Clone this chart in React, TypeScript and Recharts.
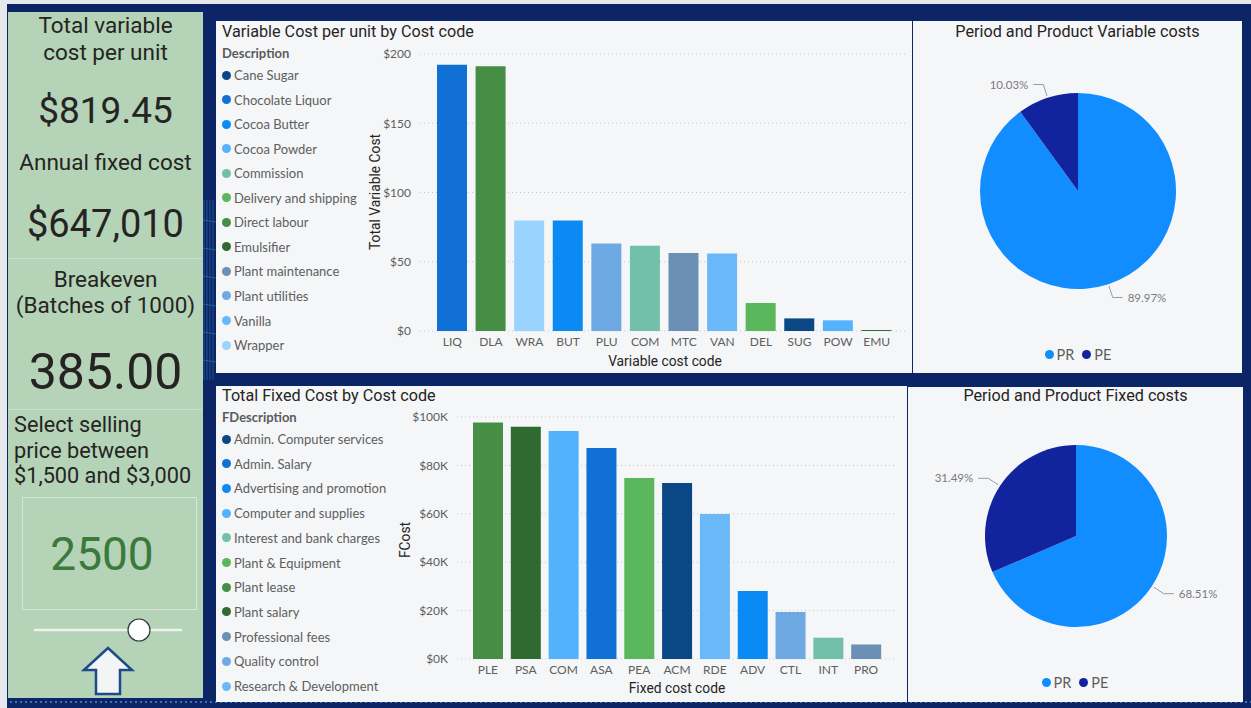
import React from 'react';
import { BarChart, Bar, XAxis, YAxis, CartesianGrid, Cell, PieChart, Pie } from 'recharts';

// ---------- data ----------
const varCodes = ['LIQ', 'DLA', 'WRA', 'BUT', 'PLU', 'COM', 'MTC', 'VAN', 'DEL', 'SUG', 'POW', 'EMU'];
const varValues = [192.3, 191.1, 79.7, 79.7, 63.2, 61.5, 56.4, 55.9, 20.2, 9.1, 7.7, 0.7];
const varCodeDesc = ['Chocolate Liquor', 'Direct labour', 'Wrapper', 'Cocoa Butter', 'Plant utilities', 'Commission', 'Plant maintenance', 'Vanilla', 'Delivery and shipping', 'Cane Sugar', 'Cocoa Powder', 'Emulsifier'];
const varLegend = ['Cane Sugar', 'Chocolate Liquor', 'Cocoa Butter', 'Cocoa Powder', 'Commission', 'Delivery and shipping', 'Direct labour', 'Emulsifier', 'Plant maintenance', 'Plant utilities', 'Vanilla', 'Wrapper'];
const varLegendColors = ['#0c4785', '#1070d6', '#0b8af3', '#55b3fb', '#71c0a7', '#5bb75b', '#468d46', '#2f6b30', '#6b8fb5', '#6ea9e4', '#6bb8f9', '#9ad3fd'];
const varTicks = [0, 50, 100, 150, 200];

const fixCodes = ['PLE', 'PSA', 'COM', 'ASA', 'PEA', 'ACM', 'RDE', 'ADV', 'CTL', 'INT', 'PRO'];
const fixValues = [97700, 96000, 94200, 87200, 74800, 72700, 59900, 28100, 19400, 8800, 6000];
const fixCodeDesc = ['Plant lease', 'Plant salary', 'Computer and supplies', 'Admin. Salary', 'Plant & Equipment', 'Admin. Computer services', 'Research & Development', 'Advertising and promotion', 'Quality control', 'Interest and bank charges', 'Professional fees'];
const fixLegend = ['Admin. Computer services', 'Admin. Salary', 'Advertising and promotion', 'Computer and supplies', 'Interest and bank charges', 'Plant & Equipment', 'Plant lease', 'Plant salary', 'Professional fees', 'Quality control', 'Research & Development'];
const fixLegendColors = ['#0b4685', '#1070d6', '#0b8af3', '#52b2fb', '#71c0a7', '#5bb75b', '#468d46', '#2f6b30', '#6b8fb5', '#6ea9e4', '#6bb8f9'];
const fixTicks = [0, 20000, 40000, 60000, 80000, 100000];

const pieNames = ['PR', 'PE'];
const pieColors = ['#118dff', '#12239e'];
const varPieValues = [89.97, 10.03];
const fixPieValues = [68.51, 31.49];

// ---------- tables built from arrays ----------
const varData = varCodes.map((c, i) => ({ code: c, value: varValues[i], color: varLegendColors[varLegend.indexOf(varCodeDesc[i])] }));
const fixData = fixCodes.map((c, i) => ({ code: c, value: fixValues[i], color: fixLegendColors[fixLegend.indexOf(fixCodeDesc[i])] }));
const varPie = pieNames.map((n, i) => ({ name: n, value: varPieValues[i] }));
const fixPie = pieNames.map((n, i) => ({ name: n, value: fixPieValues[i] }));

const NAVY = '#0b2566';
const PANEL = '#f5f6f8';
const TITLE_FONT = 'Roboto, sans-serif';
const BODY_FONT = 'Lato, sans-serif';
const RAD = Math.PI / 180;

const abs = (l: number, t: number, w: number, h: number): React.CSSProperties => ({ position: 'absolute', left: l, top: t, width: w, height: h });

function PieLabel(props: any) {
  const { cx, cy, midAngle, outerRadius, value } = props;
  const cos = Math.cos(-midAngle * RAD);
  const sin = Math.sin(-midAngle * RAD);
  const sx = cx + (outerRadius + 2) * cos;
  const sy = cy + (outerRadius + 2) * sin;
  const mx = cx + (outerRadius + 14) * cos;
  const my = cy + (outerRadius + 14) * sin;
  const dir = cos >= 0 ? 1 : -1;
  const ex = mx + dir * 10;
  return (
    <g>
      <polyline points={`${sx},${sy} ${mx},${my} ${ex},${my}`} fill="none" stroke="#9a9a9a" strokeWidth={1} />
      <text x={ex + dir * 5} y={my} dy="0.35em" textAnchor={dir > 0 ? 'start' : 'end'} fontSize={11.5} fill="#7a7a7a" fontFamily={BODY_FONT}>
        {`${Number(value).toFixed(2)}%`}
      </text>
    </g>
  );
}

function Legend({ title, items, colors, top, step }: { title: string; items: string[]; colors: string[]; top: number; step: number }) {
  return (
    <div style={{ position: 'absolute', left: 222, top: 0, fontFamily: BODY_FONT }}>
      <div style={{ position: 'absolute', top: top - 9, left: 0, fontSize: 13, fontWeight: 700, color: '#5b5b5b', whiteSpace: 'nowrap' }}>{title}</div>
      {items.map((it, i) => (
        <div key={it} style={{ position: 'absolute', top: top + 21 + i * step - 9, left: 0, height: 18, display: 'flex', alignItems: 'center', whiteSpace: 'nowrap', fontSize: 13, color: '#605e5c' }}>
          <span style={{ display: 'inline-block', width: 9, height: 9, borderRadius: 5, background: colors[i], marginRight: 3 }} />
          {it}
        </div>
      ))}
    </div>
  );
}

function PieLegend({ cx, top }: { cx: number; top: number }) {
  return (
    <div style={{ position: 'absolute', left: cx - 60, width: 120, top: top - 9, height: 18, display: 'flex', justifyContent: 'center', alignItems: 'center', fontFamily: BODY_FONT, fontSize: 14.5, color: '#605e5c' }}>
      {pieNames.map((n, i) => (
        <span key={n} style={{ display: 'flex', alignItems: 'center', marginRight: i === 0 ? 8 : 0 }}>
          <span style={{ display: 'inline-block', width: 9, height: 9, borderRadius: 5, background: pieColors[i], marginRight: 3 }} />
          {n}
        </span>
      ))}
    </div>
  );
}

const kpi = (top: number, size: number, text: string, extra: React.CSSProperties = {}) => (
  <div style={{ position: 'absolute', left: 8, width: 195, top: top - size * 0.6, height: size * 1.2, lineHeight: `${size * 1.2}px`, textAlign: 'center', fontSize: size, fontFamily: TITLE_FONT, color: '#252423', whiteSpace: 'nowrap', ...extra }}>{text}</div>
);

export default function App() {
  return (
    <div style={{ position: 'absolute', left: 0, top: 0, width: 1251, height: 708, background: '#e6e8ec', overflow: 'hidden' }}>
      {/* navy background */}
      <div style={{ ...abs(7, 4, 1244, 704), background: NAVY }} />
      <svg style={{ position: 'absolute', left: 0, top: 0 }} width={1251} height={708}>
        <line x1={10} x2={1251} y1={702} y2={702} stroke="#5f86c4" strokeWidth={1.5} strokeDasharray="2 3" />
        {[0, 1, 2, 3].map((k) => (
          <line key={k} x1={204 + k * 3} x2={204 + k * 3} y1={200} y2={380} stroke="#4fa3e0" strokeWidth={0.8} opacity={0.45} />
        ))}
        {[0, 1, 2, 3, 4, 5].map((k) => (
          <line key={`h${k}`} x1={203} x2={216} y1={220 + k * 28} y2={222 + k * 28} stroke="#4fa3e0" strokeWidth={0.8} opacity={0.45} />
        ))}
      </svg>

      {/* left KPI panel */}
      <div style={{ ...abs(8, 12, 195, 686), background: '#b4d3b7' }} />
      <div style={{ ...abs(8, 258, 195, 1), background: '#c9dfcb' }} />
      <div style={{ ...abs(8, 409, 195, 1), background: '#c9dfcb' }} />
      {kpi(25, 22.5, 'Total variable')}
      {kpi(52, 22.5, 'cost per unit')}
      {kpi(111, 37, '$819.45')}
      {kpi(162, 22.5, 'Annual fixed cost')}
      {kpi(225, 38, '$647,010')}
      {kpi(279, 22.5, 'Breakeven')}
      {kpi(305, 22.5, '(Batches of 1000)')}
      {kpi(372, 50, '385.00')}
      <div style={{ position: 'absolute', left: 14, top: 412, fontFamily: TITLE_FONT, fontSize: 21.7, lineHeight: '25.5px', color: '#252423', whiteSpace: 'nowrap' }}>
        Select selling<br />price between<br />$1,500 and $3,000
      </div>
      <div style={{ ...abs(22, 497, 175, 113), border: '1px solid #d6e6d8', boxSizing: 'border-box' }} />
      {kpi(555, 46, '2500', { color: '#3b7a3c', left: 22, width: 160 })}
      <svg style={{ position: 'absolute', left: 0, top: 0 }} width={210} height={708}>
        <line x1={34} x2={182} y1={630} y2={630} stroke="#eef2ee" strokeWidth={2.5} />
        <circle cx={139} cy={630} r={11} fill="#ffffff" stroke="#334" strokeWidth={1.2} />
        <path d="M 84 670 L 108 648 L 132 670 L 120 670 L 120 694 L 96 694 L 96 670 Z" fill="#f3f4f6" stroke="#1f4a8a" strokeWidth={2.5} strokeLinejoin="miter" />
      </svg>

      {/* top middle panel */}
      <div style={{ ...abs(216, 21, 696, 352), background: PANEL }} />
      <div style={{ position: 'absolute', left: 222, top: 22, fontFamily: TITLE_FONT, fontSize: 16.2, color: '#252423', whiteSpace: 'nowrap' }}>Variable Cost per unit by Cost code</div>
      <Legend title="Description" items={varLegend} colors={varLegendColors} top={54} step={24.55} />
      <div style={{ position: 'absolute', left: 375 - 80, top: 192 - 9, width: 160, height: 18, lineHeight: '18px', textAlign: 'center', transform: 'rotate(-90deg)', fontFamily: TITLE_FONT, fontSize: 13.8, color: '#252423' }}>Total Variable Cost</div>
      <div style={{ position: 'absolute', left: 565, width: 200, top: 352, height: 18, lineHeight: '18px', textAlign: 'center', fontFamily: TITLE_FONT, fontSize: 13.8, color: '#252423' }}>Variable cost code</div>
      <div style={abs(360, 40, 550, 335)}>
        <BarChart width={550} height={335} data={varData} margin={{ top: 14, right: 5, bottom: 0, left: 0 }} barSize={30}>
          <CartesianGrid vertical={false} stroke="#c8c8c8" strokeDasharray="1 3" />
          <XAxis dataKey="code" interval={0} height={44} tickLine={false} axisLine={false} tickMargin={0} padding={{ left: 13, right: 9 }} tick={{ fontSize: 12, fill: '#605e5c', fontFamily: BODY_FONT }} />
          <YAxis width={60} domain={[0, 200]} ticks={varTicks} tickLine={false} axisLine={false} tickMargin={3} tickFormatter={(v: number) => `$${v}`} tick={{ fontSize: 12, fill: '#605e5c', fontFamily: BODY_FONT }} />
          <Bar dataKey="value" isAnimationActive={false}>
            {varData.map((d) => <Cell key={d.code} fill={d.color} />)}
          </Bar>
        </BarChart>
      </div>

      {/* top right pie panel */}
      <div style={{ ...abs(913, 21, 329, 352), background: PANEL }} />
      <div style={{ position: 'absolute', left: 913, width: 329, top: 22, textAlign: 'center', fontFamily: TITLE_FONT, fontSize: 16.2, color: '#252423', whiteSpace: 'nowrap' }}>Period and Product Variable costs</div>
      <div style={abs(913, 40, 329, 300)}>
        <PieChart width={329} height={300}>
          <Pie data={varPie} dataKey="value" nameKey="name" cx={160} cy={146} outerRadius={98} startAngle={90} endAngle={-270} stroke="none" labelLine={false} label={PieLabel} isAnimationActive={false}>
            {varPie.map((d, i) => <Cell key={d.name} fill={pieColors[i]} />)}
          </Pie>
        </PieChart>
      </div>
      <PieLegend cx={1078} top={354} />

      {/* bottom middle panel */}
      <div style={{ ...abs(216, 386, 691, 316), background: PANEL }} />
      <div style={{ position: 'absolute', left: 222, top: 386, fontFamily: TITLE_FONT, fontSize: 16.2, color: '#252423', whiteSpace: 'nowrap' }}>Total Fixed Cost by Cost code</div>
      <Legend title="FDescription" items={fixLegend} colors={fixLegendColors} top={418} step={24.7} />
      <div style={{ position: 'absolute', left: 405 - 40, top: 540 - 9, width: 80, height: 18, lineHeight: '18px', textAlign: 'center', transform: 'rotate(-90deg)', fontFamily: TITLE_FONT, fontSize: 13.8, color: '#252423' }}>FCost</div>
      <div style={{ position: 'absolute', left: 577, width: 200, top: 679, height: 18, lineHeight: '18px', textAlign: 'center', fontFamily: TITLE_FONT, fontSize: 13.8, color: '#252423' }}>Fixed cost code</div>
      <div style={abs(390, 400, 520, 300)}>
        <BarChart width={520} height={300} data={fixData} margin={{ top: 17, right: 15, bottom: 0, left: 0 }} barSize={30}>
          <CartesianGrid vertical={false} stroke="#c8c8c8" strokeDasharray="1 3" />
          <XAxis dataKey="code" interval={0} height={41} tickLine={false} axisLine={false} tickMargin={0} padding={{ left: 12, right: 10 }} tick={{ fontSize: 12, fill: '#605e5c', fontFamily: BODY_FONT }} />
          <YAxis width={67} domain={[0, 100000]} ticks={fixTicks} tickLine={false} axisLine={false} tickMargin={3} tickFormatter={(v: number) => `$${v / 1000}K`} tick={{ fontSize: 12, fill: '#605e5c', fontFamily: BODY_FONT }} />
          <Bar dataKey="value" isAnimationActive={false}>
            {fixData.map((d) => <Cell key={d.code} fill={d.color} />)}
          </Bar>
        </BarChart>
      </div>

      {/* bottom right pie panel */}
      <div style={{ ...abs(908, 387, 335, 315), background: PANEL }} />
      <div style={{ position: 'absolute', left: 908, width: 335, top: 386, textAlign: 'center', fontFamily: TITLE_FONT, fontSize: 16.2, color: '#252423', whiteSpace: 'nowrap' }}>Period and Product Fixed costs</div>
      <div style={abs(908, 400, 335, 280)}>
        <PieChart width={335} height={280}>
          <Pie data={fixPie} dataKey="value" nameKey="name" cx={163} cy={131} outerRadius={91} startAngle={90} endAngle={-270} stroke="none" labelLine={false} label={PieLabel} isAnimationActive={false}>
            {fixPie.map((d, i) => <Cell key={d.name} fill={pieColors[i]} />)}
          </Pie>
        </PieChart>
      </div>
      <PieLegend cx={1075} top={682} />
    </div>
  );
}
